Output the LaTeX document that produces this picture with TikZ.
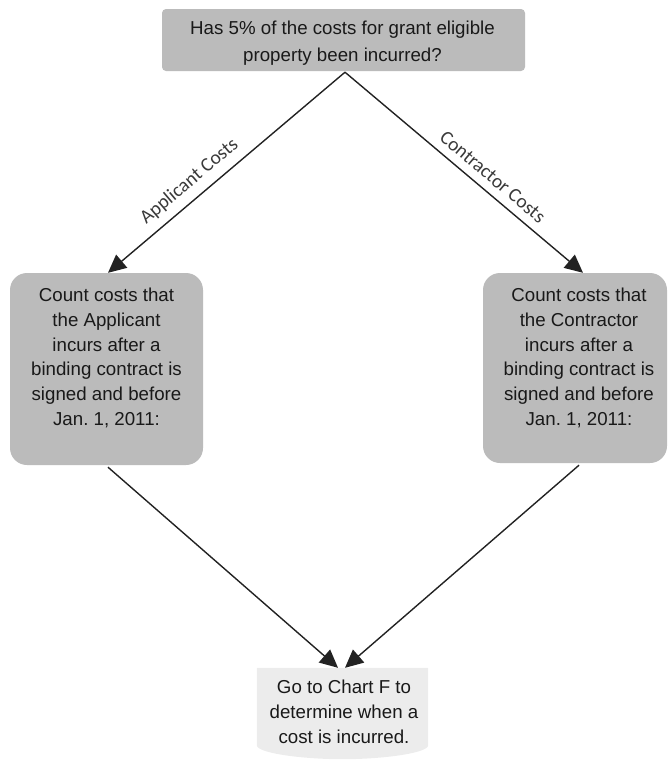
\documentclass[tikz,border=0pt]{standalone}
\usepackage{fontspec}
\setmainfont{Liberation Sans}
\newfontfamily\labelfont{Carlito}
\usetikzlibrary{arrows.meta}
\frenchspacing
\definecolor{boxgray}{HTML}{BBBBBB}
\definecolor{lightbox}{HTML}{ECECEC}
\definecolor{linegray}{HTML}{222222}
\definecolor{labelgray}{HTML}{3A3A3A}
\begin{document}
\begin{tikzpicture}[x=1pt,y=-1pt,
  box/.style={fill=boxgray, draw=none, inner sep=0pt},
  boxtext/.style={align=center, inner sep=0pt, text=black!90,
    font=\fontsize{18.7}{24.7}\selectfont},
  flow/.style={draw=linegray, line width=1.4pt,
    -{Triangle[length=18pt,width=17pt]}},
  edgelabel/.style={sloped, inner sep=0pt, text=labelgray,
    font=\labelfont\fontsize{19.5}{21}\selectfont}]
\useasboundingbox (0,0) rectangle (668,761);

% question box
\node[box, rounded corners=4pt, minimum width=363pt, minimum height=62pt]
  (q) at (343.5,40) {};
\node[boxtext, font=\fontsize{18.7}{26.7}\selectfont] (qt) at (342.5,43)
  {Has 5\% of the costs for grant eligible\\property been incurred?};

% applicant and contractor boxes
\node[box, rounded corners=17pt, minimum width=193pt, minimum height=192pt]
  (app) at (106.5,369) {};
\node[boxtext] (appt) at (106.5,358)
  {Count costs that\\the Applicant\\incurs after a\\binding contract is\\signed and before\\Jan. 1, 2011:};

\node[box, rounded corners=17pt, minimum width=184pt, minimum height=190pt]
  (con) at (575,368) {};
\node[boxtext] (cont) at (579,358)
  {Count costs that\\the Contractor\\incurs after a\\binding contract is\\signed and before\\Jan. 1, 2011:};

% final box with a rounded-off bottom edge
\node[inner sep=0pt, minimum width=171pt, minimum height=77pt]
  (fin) at (342.5,706.5) {};
\fill[lightbox] (fin.north west) -- (fin.north east) -- (fin.south east)
  .. controls ([yshift=-8pt]fin.south east) and ([xshift=40pt,yshift=-14pt]fin.south) ..
  ([yshift=-14pt]fin.south)
  .. controls ([xshift=-40pt,yshift=-14pt]fin.south) and ([yshift=-8pt]fin.south west) ..
  (fin.south west) -- cycle;
\node[boxtext] (fint) at (344,712)
  {Go to Chart F to\\determine when a\\cost is incurred.};

% connectors
\coordinate (qs) at ([xshift=1.5pt,yshift=-1pt]q.south);
\draw[flow] (qs) -- ([xshift=1.5pt]app.north)
  node[edgelabel, pos=0.61, above=8pt] {Applicant Costs};
\draw[flow] (qs) -- ([xshift=8pt]con.north)
  node[edgelabel, pos=0.58, above=8pt] {Contractor Costs};
\draw[flow] ([xshift=1.5pt,yshift=-2pt]app.south) -- ([xshift=-4.5pt]fin.north);
\draw[flow] ([xshift=4pt,yshift=-2pt]con.south) -- ([xshift=2.5pt]fin.north);
\end{tikzpicture}
\end{document}
